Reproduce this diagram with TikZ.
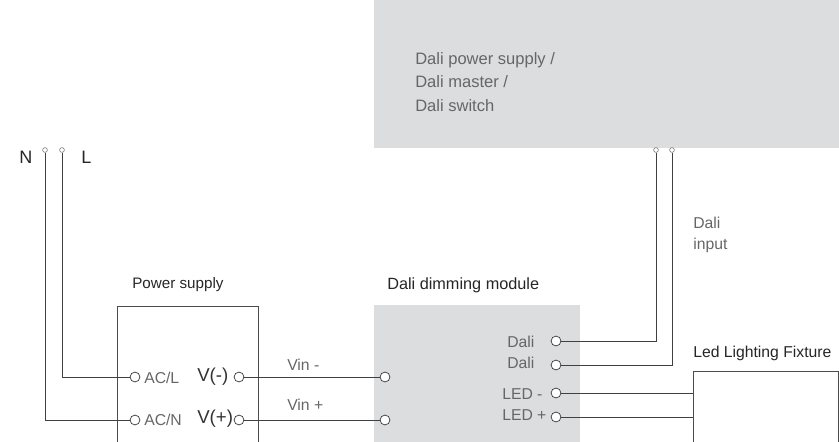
\documentclass[tikz,border=0pt]{standalone}
\usepackage{fontspec}
\setmainfont{Liberation Sans}
\definecolor{panelgrey}{HTML}{DCDDDE}
\tikzset{
  wire/.style={draw=black!75, line width=0.7pt},
  pin/.style={circle, draw=black!75, fill=white, line width=0.55pt, inner sep=0pt, minimum size=7.4pt},
  tinypin/.style={circle, draw=black!60, fill=white, line width=0.4pt, inner sep=0pt, minimum size=3.6pt},
  greybox/.style={fill=panelgrey, inner sep=0pt, anchor=north west},
  openbox/.style={draw=black!70, line width=0.7pt, inner sep=0pt, anchor=north west},
  title/.style={anchor=west, inner sep=0pt, text=black!85, font=\fontsize{11.6}{14}\selectfont},
  label/.style={anchor=west, inner sep=0pt, text=black!60, font=\fontsize{11.8}{14}\selectfont},
  volt/.style={anchor=west, inner sep=0pt, text=black!80, font=\fontsize{14}{16}\selectfont}
}
\begin{document}
\begin{tikzpicture}[x=0.75pt, y=-0.75pt]
  \useasboundingbox (0, 0) rectangle (839, 442);
  % grey blocks and open boxes
  \node (master) [greybox, minimum width=348.75pt, minimum height=110.6pt] at (374, 0) {};
  \node (module) [greybox, minimum width=154.5pt, minimum height=120pt] at (374, 305) {};
  \node (psu) [openbox, minimum width=105.75pt, minimum height=120pt] at (117, 306) {};
  \node (fixture) [openbox, minimum width=108.75pt, minimum height=90pt] at (693, 371) {};
  % texts
  \node (tmaster) [label, align=left, font=\fontsize{12.4}{14}\selectfont] at (415, 82) {Dali power supply /\\[3.6pt]Dali master /\\[3.6pt]Dali switch};
  \node (tn) [title, font=\fontsize{13.5}{16}\selectfont] at (19, 157) {N};
  \node (tl) [title, font=\fontsize{13.5}{16}\selectfont] at (81, 157) {L};
  \node (tinput) [label, align=left] at (693, 235) {Dali\\[1.3pt]input};
  \node (tpsu) [title, font=\fontsize{11.4}{14}\selectfont] at (132, 285) {Power supply};
  \node (tmodule) [title, font=\fontsize{12.2}{14}\selectfont] at (387, 285) {Dali dimming module};
  \node (tfixture) [title, font=\fontsize{11.8}{14}\selectfont] at (693, 353) {Led Lighting Fixture};
  \node (tacl) [label] at (144, 378) {AC/L};
  \node (tacn) [label] at (144, 420) {AC/N};
  \node (tvm) [volt] at (197, 377) {V(-)};
  \node (tvp) [volt] at (197, 419) {V(+)};
  \node (tvinm) [label] at (287, 365) {Vin -};
  \node (tvinp) [label] at (287, 405) {Vin +};
  \node (tdalia) [label] at (507, 342) {Dali};
  \node (tdalib) [label] at (507, 363) {Dali};
  \node (tledm) [label] at (502, 394) {LED -};
  \node (tledp) [label] at (502, 415) {LED +};
  % pins
  \node (pn) [tinypin] at (45, 150) {};
  \node (pl) [tinypin] at (62, 150) {};
  \node (pma) [tinypin] at (656, 150) {};
  \node (pmb) [tinypin] at (672, 150) {};
  \node (acl) [pin] at (135, 377) {};
  \node (acn) [pin] at (135, 420) {};
  \node (vm) [pin] at (239, 377) {};
  \node (vp) [pin] at (239, 420) {};
  \node (inm) [pin] at (385, 377) {};
  \node (inp) [pin] at (385, 420) {};
  \node (dalia) [pin] at (556, 341) {};
  \node (dalib) [pin] at (556, 365) {};
  \node (ledm) [pin] at (556, 393) {};
  \node (ledp) [pin] at (556, 417) {};
  % connectors
  \draw [wire] (pl) |- (acl);
  \draw [wire] (pn) |- (acn);
  \draw [wire] (vm) to (inm);
  \draw [wire] (vp) to (inp);
  \draw [wire] (pma) |- (dalia);
  \draw [wire] (pmb) |- (dalib);
  \draw [wire] (ledm) to (ledm -| fixture.west);
  \draw [wire] (ledp) to (ledp -| fixture.west);
\end{tikzpicture}
\end{document}
